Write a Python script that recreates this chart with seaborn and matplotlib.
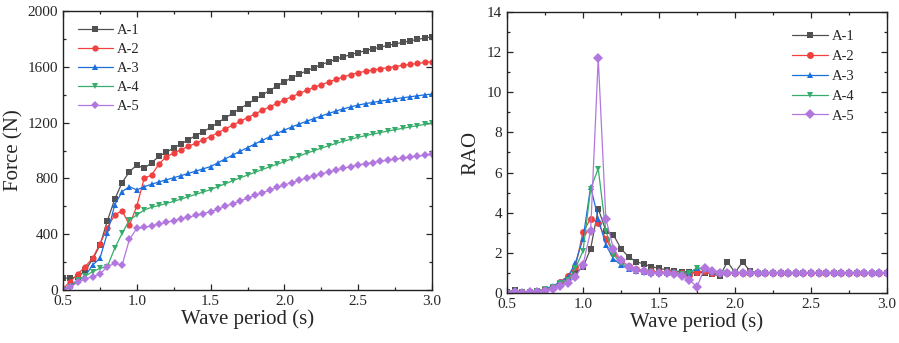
import numpy as np
import pandas as pd
from matplotlib import pyplot as plt
from matplotlib.ticker import MultipleLocator
import seaborn as sns

# wave periods (s), 0.05 s step
period = np.round(np.linspace(0.5, 3.0, 51), 2)
cases = ["A-1", "A-2", "A-3", "A-4", "A-5"]

force_a1 = [85, 85, 95, 140, 220, 320, 495, 650, 770, 848,
            896, 872, 913, 958, 988, 1018, 1048, 1078, 1107, 1136,
            1165, 1200, 1234, 1268, 1301, 1334, 1366, 1398, 1430, 1462,
            1494, 1521, 1547, 1571, 1594, 1616, 1636, 1655, 1672, 1688,
            1702, 1716, 1729, 1741, 1753, 1764, 1775, 1786, 1796, 1806, 1816]
force_a2 = [10, 60, 115, 167, 227, 330, 447, 538, 569, 466,
            602, 801, 824, 903, 956, 982, 1006, 1030, 1053, 1077,
            1100, 1128, 1155, 1182, 1209, 1236, 1262, 1288, 1313, 1338,
            1362, 1386, 1409, 1431, 1452, 1472, 1491, 1510, 1528, 1544,
            1558, 1568, 1577, 1586, 1594, 1602, 1610, 1617, 1624, 1631, 1637]
force_a3 = [0, 30, 72, 100, 179, 227, 406, 609, 705, 741,
            717, 741, 758, 775, 790, 805, 820, 836, 853, 869,
            885, 913, 941, 968, 995, 1021, 1047, 1073, 1098, 1123,
            1147, 1169, 1190, 1210, 1229, 1248, 1266, 1283, 1299, 1313,
            1326, 1336, 1345, 1354, 1362, 1370, 1378, 1385, 1392, 1399, 1405]
force_a4 = [0, 20, 72, 100, 131, 155, 167, 299, 406, 502,
            538, 574, 593, 606, 620, 636, 652, 669, 686, 703,
            720, 741, 762, 783, 804, 824, 844, 864, 883, 902,
            920, 941, 961, 980, 999, 1017, 1034, 1051, 1067, 1081,
            1095, 1107, 1118, 1129, 1139, 1149, 1159, 1169, 1178, 1187, 1195]
force_a5 = [0, 20, 57, 79, 95, 115, 167, 191, 179, 363,
            442, 450, 459, 473, 485, 497, 510, 522, 535, 548,
            561, 580, 600, 619, 639, 658, 678, 697, 716, 735,
            753, 770, 786, 802, 817, 832, 846, 860, 873, 885,
            896, 905, 914, 922, 930, 938, 945, 952, 959, 966, 973]

rao_a1 = [0.05, 0.15, 0.05, 0.05, 0.08, 0.15, 0.25, 0.45, 0.7, 1.0,
          1.3, 2.2, 4.2, 3.1, 2.9, 2.2, 1.8, 1.56, 1.44, 1.31,
          1.23, 1.15, 1.11, 1.06, 1.06, 1.02, 1.02, 0.95, 0.85, 1.55,
          1.02, 1.55, 1.08, 1.02, 1.0, 1.0, 1.0, 1.0, 1.0, 1.0,
          1.0, 1.0, 1.0, 1.0, 1.0, 1.0, 1.0, 1.0, 1.0, 1.0, 1.0]
rao_a2 = [0.02, 0.03, 0.03, 0.05, 0.1, 0.18, 0.3, 0.55, 0.85, 1.3,
          3.05, 3.7, 3.5, 2.7, 2.0, 1.6, 1.35, 1.2, 1.12, 1.08,
          1.05, 1.03, 1.0, 0.98, 0.92, 1.05, 1.1, 1.02, 1.0, 1.0,
          1.0, 1.0, 1.0, 1.0, 1.0, 1.0, 1.0, 1.0, 1.0, 1.0,
          1.0, 1.0, 1.0, 1.0, 1.0, 1.0, 1.0, 1.0, 1.0, 1.0, 1.0]
rao_a3 = [0.02, 0.03, 0.03, 0.05, 0.1, 0.2, 0.35, 0.55, 0.8, 1.5,
          2.7, 5.3, 3.7, 2.4, 1.7, 1.4, 1.2, 1.1, 1.05, 1.02,
          1.0, 1.0, 0.98, 0.97, 1.0, 1.25, 1.2, 1.05, 1.0, 1.0,
          1.0, 1.0, 1.0, 1.0, 1.0, 1.0, 1.0, 1.0, 1.0, 1.0,
          1.0, 1.0, 1.0, 1.0, 1.0, 1.0, 1.0, 1.0, 1.0, 1.0, 1.0]
rao_a4 = [0.02, 0.03, 0.03, 0.05, 0.1, 0.18, 0.3, 0.5, 0.65, 1.23,
          2.1, 5.2, 6.2, 3.1, 1.9, 1.5, 1.25, 1.12, 1.06, 1.03,
          1.0, 1.0, 0.98, 0.97, 1.0, 1.25, 1.15, 1.02, 1.0, 1.0,
          1.0, 1.0, 1.0, 1.0, 1.0, 1.0, 1.0, 1.0, 1.0, 1.0,
          1.0, 1.0, 1.0, 1.0, 1.0, 1.0, 1.0, 1.0, 1.0, 1.0, 1.0]
rao_a5 = [0.02, 0.03, 0.02, 0.03, 0.05, 0.12, 0.2, 0.35, 0.5, 0.81,
          1.4, 3.1, 11.7, 3.7, 2.2, 1.65, 1.3, 1.15, 1.08, 1.02,
          1.0, 0.98, 0.95, 0.85, 0.65, 0.3, 1.25, 1.1, 1.0, 1.0,
          1.0, 1.0, 1.0, 1.0, 1.0, 1.0, 1.0, 1.0, 1.0, 1.0,
          1.0, 1.0, 1.0, 1.0, 1.0, 1.0, 1.0, 1.0, 1.0, 1.0, 1.0]

colors = ["#515151", "#F14040", "#1A6FDF", "#37AD6B", "#B177DE"]
markers = ["s", "o", "^", "v", "D"]

sns.set_style("ticks")
plt.rcParams["font.family"] = ["Liberation Serif", "DejaVu Serif"]

forces = [force_a1, force_a2, force_a3, force_a4, force_a5]
raos = [rao_a1, rao_a2, rao_a3, rao_a4, rao_a5]
rows = []
for c, f, r in zip(cases, forces, raos):
    for p, fv, rv in zip(period, f, r):
        rows.append({"period": p, "case": c, "force": fv, "rao": rv})
df = pd.DataFrame(rows)

fig = plt.figure(figsize=(8.99, 3.43), dpi=100)
ax1 = fig.add_axes([0.0701, 0.1545, 0.4105, 0.8134])
ax2 = fig.add_axes([0.564, 0.1458, 0.4227, 0.8192])

pal = dict(zip(cases, colors))
mk = dict(zip(cases, markers))

sns.lineplot(data=df, x="period", y="force", hue="case", style="case",
             palette=pal, markers=mk, dashes=False, markersize=4.5, mew=0,
             linewidth=0.9, ax=ax1)
sns.lineplot(data=df, x="period", y="rao", hue="case", style="case",
             palette=pal, markers=mk, dashes=False, markersize=5, mew=0,
             linewidth=0.9, ax=ax2)

ax1.set_xlim(0.5, 3.0)
ax1.set_ylim(0, 2000)
ax1.yaxis.set_major_locator(MultipleLocator(400))
ax1.yaxis.set_minor_locator(MultipleLocator(200))
ax1.set_ylabel("Force (N)", fontsize=15, labelpad=3)

ax2.set_xlim(0.5, 3.0)
ax2.set_ylim(0, 14)
ax2.yaxis.set_major_locator(MultipleLocator(2))
ax2.yaxis.set_minor_locator(MultipleLocator(1))
ax2.set_ylabel("RAO", fontsize=15, labelpad=5)

for ax in (ax1, ax2):
    ax.xaxis.set_major_locator(MultipleLocator(0.5))
    ax.xaxis.set_minor_locator(MultipleLocator(0.25))
    ax.set_xlabel("Wave period (s)", fontsize=15, labelpad=1)
    ax.tick_params(which="both", direction="in", top=True, right=True,
                   labelsize=11, width=0.9)
    ax.tick_params(which="major", length=4.5)
    ax.tick_params(which="minor", length=2.5)
    for s in ax.spines.values():
        s.set_linewidth(1.0)
        s.set_color("#222222")

ax1.legend(loc="upper left", bbox_to_anchor=(0.04, 0.955), frameon=False,
           fontsize=10.5, handlelength=2.4, handletextpad=0.25,
           labelspacing=0.4, borderpad=0, borderaxespad=0)
ax2.legend(loc="upper left", bbox_to_anchor=(0.75, 0.935), frameon=False,
           fontsize=10.5, handlelength=2.5, handletextpad=0.25,
           labelspacing=0.45, borderpad=0, borderaxespad=0)

plt.savefig("out.png", dpi=100)
